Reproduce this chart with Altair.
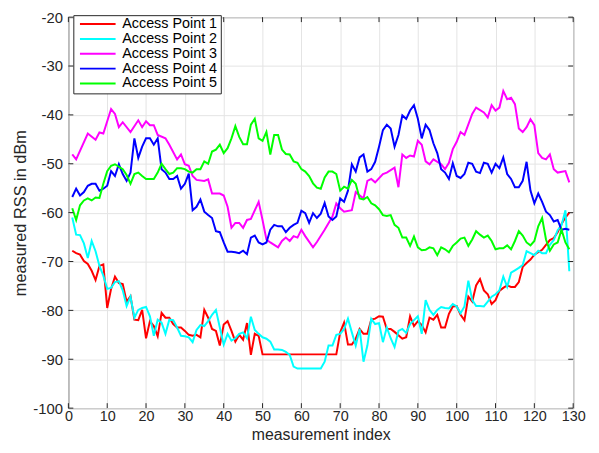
import altair as alt
import pandas as pd

SERIES = ["Access Point 1", "Access Point 2", "Access Point 3", "Access Point 4", "Access Point 5"]
COLORS = ["#ff0000", "#00ffff", "#ff00ff", "#0000ff", "#00ff00"]

ap1_x = [1,2,3,4,5,6,7,8,9,10,11,12,13,14,15,16,17,18,19,20,21,22,23,24,25,26,27,28,29,30,
         31,32,33,34,35,36,37,38,39,40,41,42,43,44,45,46,47,48,49,50,69,70,71,72,73,74,75,76,77,78,
         79,80,81,82,83,84,86,87,88,89,90,91,92,93,94,95,96,97,98,99,100,101,102,103,104,105,106,107,108,109,
         110,111,112,113,114,115,116,117,118,119,120,122,123,124,125,126,127,128,129]
ap1_y = [-67.8,-68.3,-68.6,-69.9,-70.5,-71.9,-73.8,-70.9,-70.6,-79.5,-75.6,-73.1,-74.4,-74.6,-78.2,-77.1,-81.9,-82.0,-79.9,-85.7,
         -82.2,-83.2,-85.3,-80.5,-81.5,-81.5,-82.8,-83.5,-83.5,-84.2,-85.0,-85.2,-85.0,-85.5,-79.9,-81.5,-83.8,-84.2,-87.2,-82.9,
         -82.2,-84.2,-86.4,-85.0,-86.0,-82.6,-89.1,-84.8,-85.2,-89.0,-89.0,-84.5,-82.5,-87.0,-87.0,-85.8,-83.8,-84.8,-84.8,-81.9,
         -81.7,-81.2,-81.3,-83.8,-83.8,-84.4,-85.8,-85.5,-81.2,-83.2,-82.2,-83.0,-84.5,-81.5,-81.9,-80.9,-83.5,-83.5,-80.7,-79.2,
         -79.1,-80.9,-82.0,-77.2,-78.2,-74.9,-73.6,-75.9,-76.7,-78.7,-77.9,-76.0,-75.4,-74.9,-75.2,-75.2,-74.2,-71.1,-70.3,-69.6,
         -68.6,-67.6,-66.6,-65.6,-65.2,-64.0,-62.3,-61.0,-60.0]

ap2_x = [1,2,3,4,5,6,7,8,9,10,11,12,13,14,15,16,17,18,19,20,21,22,23,24,25,26,27,28,29,30,
         31,32,33,34,35,36,37,38,39,40,41,42,43,44,45,46,47,48,49,50,51,52,53,54,55,56,57,58,59,65,
         66,67,68,69,70,71,72,73,74,75,76,77,78,79,80,81,82,83,84,85,86,87,88,89,90,91,92,93,94,95,
         96,97,98,99,100,101,102,103,104,105,106,107,108,109,110,111,112,113,114,115,116,117,118,119,120,121,122,123,124,125,
         126,127,128,129]
ap2_y = [-61.0,-64.5,-64.6,-66.3,-69.3,-65.8,-67.9,-70.9,-72.9,-75.6,-75.4,-74.2,-74.0,-75.9,-79.1,-77.2,-81.5,-79.9,-79.5,-79.3,
         -81.2,-85.2,-81.9,-82.5,-84.8,-81.9,-82.0,-83.5,-85.2,-85.3,-85.5,-86.5,-84.0,-83.0,-83.2,-82.2,-80.9,-79.9,-83.5,-87.0,
         -84.8,-86.2,-85.7,-84.8,-84.5,-85.7,-81.3,-84.0,-84.8,-85.5,-85.8,-86.4,-88.0,-88.0,-88.1,-88.5,-89.1,-91.5,-91.9,-91.9,
         -90.5,-87.2,-87.2,-85.0,-84.8,-83.8,-81.7,-84.5,-87.2,-83.8,-90.5,-87.2,-81.7,-82.8,-82.6,-86.5,-83.5,-85.7,-87.5,-84.2,
         -83.8,-84.6,-82.8,-82.0,-81.2,-84.8,-77.9,-79.9,-80.9,-79.9,-79.3,-79.5,-79.6,-78.7,-79.2,-80.6,-79.2,-73.9,-77.9,-79.1,
         -79.1,-79.2,-78.2,-77.2,-76.7,-75.9,-73.1,-75.2,-72.3,-71.8,-71.3,-70.7,-67.9,-68.3,-68.7,-67.8,-68.3,-68.3,-66.6,-65.6,
         -63.6,-62.6,-59.5,-72.0]

ap3_x = [1,2,5,7,8,9,11,12,13,14,16,18,19,20,21,22,23,25,26,28,29,30,31,32,33,35,36,37,39,40,
         41,42,43,44,45,46,47,49,50,51,52,54,55,56,57,58,59,60,61,63,64,66,68,69,70,71,73,74,76,77,
         78,79,81,82,84,85,86,87,88,89,90,91,92,93,94,96,97,98,99,100,101,102,104,105,107,108,109,110,111,112,
         113,114,115,116,117,118,119,120,121,122,123,124,125,126,128,129]
ap3_y = [-48.1,-49.1,-43.8,-45.1,-43.6,-43.8,-38.8,-39.8,-42.5,-41.5,-43.5,-41.1,-42.5,-41.3,-42.1,-42.1,-44.1,-44.8,-46.1,-49.1,
         -48.1,-50.1,-50.4,-52.5,-53.3,-53.5,-53.2,-56.1,-56.1,-56.5,-58.8,-63.1,-62.1,-62.1,-63.1,-61.5,-61.3,-57.8,-61.5,-65.5,
         -66.1,-67.1,-65.8,-65.1,-65.8,-64.8,-65.1,-63.5,-64.8,-67.1,-66.0,-63.5,-60.8,-58.1,-59.1,-59.8,-59.5,-55.8,-57.1,-53.5,
         -53.1,-53.8,-52.1,-51.8,-50.8,-54.8,-48.1,-48.8,-48.3,-48.5,-45.3,-46.1,-49.5,-50.1,-49.1,-50.1,-51.1,-49.8,-47.0,-45.5,
         -43.5,-44.1,-39.8,-38.5,-39.5,-40.5,-38.0,-39.1,-38.5,-35.1,-36.8,-36.5,-37.8,-42.8,-43.5,-42.5,-40.9,-42.1,-47.8,-48.8,
         -49.1,-48.1,-51.1,-51.8,-51.5,-53.8]

ap4_x = list(range(1, 130))
ap4_y = [-56.8,-55.1,-56.5,-55.8,-54.5,-54.1,-54.1,-55.5,-55.1,-54.5,-51.5,-52.5,-50.1,-52.1,-53.5,-51.8,-44.8,-48.8,-46.5,-44.8,
         -44.8,-46.1,-44.8,-51.1,-51.8,-53.1,-53.1,-52.5,-55.1,-54.1,-52.0,-59.5,-58.8,-57.3,-59.8,-60.5,-61.1,-63.8,-64.0,-66.1,
         -68.0,-68.0,-68.1,-68.3,-67.8,-68.5,-65.1,-64.7,-66.1,-66.5,-66.1,-63.5,-62.5,-62.8,-62.8,-64.0,-63.1,-62.5,-62.1,-59.6,
         -60.1,-62.1,-60.1,-61.1,-60.2,-58.0,-60.8,-61.5,-60.8,-57.1,-57.8,-55.5,-50.1,-51.6,-48.7,-48.1,-51.6,-51.1,-49.6,-46.5,
         -43.1,-42.0,-42.8,-46.5,-44.1,-40.1,-40.8,-39.1,-38.0,-40.8,-44.8,-42.0,-43.1,-45.8,-47.8,-51.1,-51.8,-53.1,-49.9,-52.5,
         -52.9,-52.1,-49.8,-50.0,-51.6,-51.9,-49.8,-50.0,-51.8,-50.0,-50.9,-48.7,-52.1,-53.1,-54.8,-54.8,-53.5,-49.6,-55.5,-58.1,
         -56.1,-57.8,-59.8,-60.5,-61.8,-61.5,-63.5,-63.3,-63.5]

ap5_x = [1,2,3,4,5,6,7,8,9,10,11,12,14,15,16,17,18,19,20,22,23,24,25,26,27,28,29,30,31,32,
         33,34,35,36,37,38,39,40,41,42,43,44,45,46,47,48,49,50,51,52,53,54,55,56,57,58,59,60,61,62,
         63,64,65,66,67,68,69,70,71,72,73,74,75,76,77,78,79,80,81,82,83,84,85,86,87,88,89,90,91,92,
         93,94,95,96,97,98,99,100,101,102,103,104,105,106,107,108,109,110,111,112,113,114,115,116,117,118,119,120,121,122,
         123,124,125,126,127,128,129]
ap5_y = [-59.1,-61.5,-58.5,-57.5,-57.1,-57.5,-56.9,-57.0,-54.1,-51.5,-50.4,-50.1,-51.1,-52.3,-54.1,-52.1,-51.8,-52.5,-53.1,-53.1,
         -51.8,-50.0,-51.1,-52.1,-51.8,-50.9,-50.9,-51.1,-51.6,-51.8,-51.1,-51.1,-49.5,-50.0,-47.5,-47.1,-46.1,-47.8,-46.8,-44.8,
         -42.3,-44.5,-46.0,-46.0,-42.0,-40.8,-44.8,-45.3,-43.5,-48.1,-44.1,-44.1,-47.1,-48.0,-48.1,-49.5,-49.8,-51.1,-51.6,-52.5,
         -54.0,-54.9,-55.1,-52.8,-51.6,-51.6,-52.1,-55.5,-54.7,-55.1,-53.3,-54.1,-57.1,-57.3,-56.8,-58.1,-58.5,-59.3,-60.5,-60.7,
         -60.5,-62.5,-63.1,-65.1,-65.1,-66.8,-64.9,-67.1,-67.7,-67.6,-67.1,-67.3,-68.7,-67.1,-67.5,-68.1,-66.8,-66.1,-65.3,-65.1,
         -66.8,-65.5,-63.8,-64.5,-65.1,-64.7,-65.8,-67.5,-67.3,-67.3,-66.7,-67.5,-65.8,-63.8,-64.7,-66.1,-66.7,-65.8,-62.8,-61.1,
         -65.5,-67.8,-66.5,-66.1,-63.5,-66.1,-67.5]

X_TICKS = list(range(0, 131, 10))
Y_TICKS = list(range(-100, -19, 10))

rows = []
for name, xs, ys in zip(SERIES, [ap1_x, ap2_x, ap3_x, ap4_x, ap5_x], [ap1_y, ap2_y, ap3_y, ap4_y, ap5_y]):
    for i, (a, b) in enumerate(zip(xs, ys)):
        rows.append({"series": name, "idx": a, "rss": b, "order": i})
df = pd.DataFrame(rows)

W, H = 510, 395
FONT = "Liberation Sans"
DARK = "#262626"

xscale = alt.Scale(domain=[0, 130], nice=False, zero=False)
yscale = alt.Scale(domain=[-100, -20], nice=False, zero=False)

xaxis = alt.Axis(values=X_TICKS, title="measurement index", grid=True, ticks=False, tickSize=0,
                 domain=False, labelPadding=2, labelFontSize=14.5, labelFlush=False,
                 labelOverlap=False, labelBound=False, format="d",
                 titleFontSize=16, titleBaseline="alphabetic", titleY=31.6)
yaxis = alt.Axis(values=Y_TICKS, title="measured RSS in dBm", grid=True, ticks=False, tickSize=0,
                 domain=False, labelPadding=6, titlePadding=4, labelFlush=False,
                 labelOverlap=False, labelBound=False, labelExpr="replace(datum.label, '−', '-')")

lines = alt.Chart(df).mark_line(strokeWidth=2, clip=True).encode(
    x=alt.X("idx:Q", scale=xscale, axis=xaxis, title="measurement index"),
    y=alt.Y("rss:Q", scale=yscale, axis=yaxis, title="measured RSS in dBm"),
    color=alt.Color("series:N", scale=alt.Scale(domain=SERIES, range=COLORS),
                    legend=alt.Legend(title=None, orient="none", legendX=5, legendY=-2,
                                      symbolType="stroke", symbolSize=1296, symbolStrokeWidth=2,
                                      clipHeight=12, rowPadding=0, labelFontSize=14.5, labelFont=FONT,
                                      labelColor="black", padding=3, labelOffset=5.7, symbolOffset=2.7,
                                      strokeColor=DARK, fillColor="white", cornerRadius=0)),
    detail="series:N",
    order="order:Q",
)

xt = pd.DataFrame({"idx": X_TICKS})
yt = pd.DataFrame({"rss": Y_TICKS})

tick_style = dict(color=DARK, strokeWidth=1)
bottom_ticks = alt.Chart(xt).mark_rule(**tick_style).encode(
    x=alt.X("idx:Q", scale=xscale, axis=xaxis, title="measurement index"),
    y=alt.value(H), y2=alt.value(H - 5))
top_ticks = alt.Chart(xt).mark_rule(**tick_style).encode(
    x=alt.X("idx:Q", scale=xscale, axis=xaxis, title="measurement index"),
    y=alt.value(0), y2=alt.value(5))
left_ticks = alt.Chart(yt).mark_rule(**tick_style).encode(
    y=alt.Y("rss:Q", scale=yscale, axis=yaxis, title="measured RSS in dBm"),
    x=alt.value(0), x2=alt.value(5))
right_ticks = alt.Chart(yt).mark_rule(**tick_style).encode(
    y=alt.Y("rss:Q", scale=yscale, axis=yaxis, title="measured RSS in dBm"),
    x=alt.value(W), x2=alt.value(W - 5))

chart = alt.layer(lines, bottom_ticks, top_ticks, left_ticks, right_ticks).properties(
    width=W, height=H,
    autosize=alt.AutoSizeParams(type="none"),
    padding={"left": 61, "top": 7, "right": 18, "bottom": 35},
    background="white",
).configure_view(
    stroke=DARK, strokeWidth=1, fill="white"
).configure_axis(
    labelFont=FONT, labelFontSize=15, labelColor=DARK,
    titleFont=FONT, titleFontSize=16.5, titleFontWeight="normal", titleColor=DARK,
    gridColor="#e4e4e4", gridWidth=1, gridOpacity=1,
)

chart.save("out.html", embed_options={"renderer": "svg", "actions": False})
